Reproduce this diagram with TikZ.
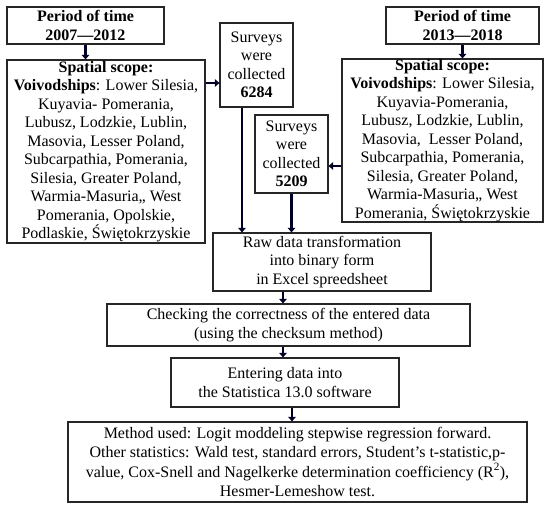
\documentclass[tikz,border=0pt]{standalone}
\usepackage{fontspec}
\setmainfont{Liberation Serif}
\usetikzlibrary{arrows.meta,calc}
\begin{document}
\begin{tikzpicture}[x=1pt,y=-1pt,
  box/.style={draw=black!85, line width=1.2pt, align=center, inner sep=0pt,
    font=\fontsize{16}{18.5}\selectfont},
  arr/.style={draw=black!85!blue, line width=2.4pt, -{Triangle[length=4.5pt,width=7.5pt]}}]
\useasboundingbox (0,0) rectangle (550,510);
\node[box, minimum width=157pt, minimum height=37pt] (p1) at (85.5,25.5)
  {\textbf{Period of time}\\\textbf{2007---2012}};
\node[box, minimum width=198pt, minimum height=183pt] (s1) at (106,151.5)
  {\textbf{Spatial scope:}\\\textbf{Voivodships}: Lower Silesia,\\Kuyavia- Pomerania,\\Lubusz, Lodzkie, Lublin,\\Masovia, Lesser Poland,\\Subcarpathia, Pomerania,\\Silesia, Greater Poland,\\Warmia-Masuria,, West\\Pomerania, Opolskie,\\Podlaskie, Świętokrzyskie};
\node[box, minimum width=73pt, minimum height=84pt] (sv1) at (256.5,65)
  {Surveys\\were\\collected\\\textbf{6284}};
\node[box, minimum width=73pt, minimum height=78pt] (sv2) at (291.5,154)
  {Surveys\\were\\collected\\\textbf{5209}};
\node[box, minimum width=153pt, minimum height=37pt] (p2) at (462.5,25.5)
  {\textbf{Period of time}\\\textbf{2013---2018}};
\node[box, minimum width=201pt, minimum height=163pt] (s2) at (442.5,140.5)
  {\textbf{Spatial scope:}\\\textbf{Voivodships}: Lower Silesia,\\Kuyavia-Pomerania,\\Lubusz, Lodzkie, Lublin,\\Masovia,\ \ Lesser Poland,\\Subcarpathia, Pomerania,\\Silesia, Greater Poland,\\Warmia-Masuria,, West\\Pomerania, Świętokrzyskie};
\node[box, minimum width=218pt, minimum height=58pt] (raw) at (322,262)
  {Raw data transformation\\into binary form\\in Excel spreedsheet};
\node[box, minimum width=363pt, minimum height=42pt] (chk) at (288.5,325)
  {Checking the correctness of the entered data\\(using the checksum method)};
\node[box, minimum width=228pt, minimum height=49pt] (ent) at (285,382.5)
  {Entering data into\\the Statistica 13.0 software};
\node[box, minimum width=459pt, minimum height=80pt, font=\fontsize{16}{19.5}\selectfont] (bot) at (297.5,462)
  {Method used: Logit moddeling stepwise regression forward.\\Other statistics: Wald test, standard errors, Student's t-statistic,p-\\value, Cox-Snell and Nagelkerke determination coefficiency (R\textsuperscript{2}),\\Hesmer-Lemeshow test.};
% connectors
\draw[arr] (p1.south) -- (p1.south |- s1.north);
\draw[arr] (p2.south) -- (p2.south |- s2.north);
\coordinate (a1) at ($(sv1.west)+(0,18)$);
\draw[arr] (s1.east |- a1) -- (a1);
\coordinate (a2) at ($(sv2.east)+(0,12)$);
\draw[arr] (s2.west |- a2) -- (a2);
\coordinate (a3) at ($(sv1.south)+(-14.5,0)$);
\draw[arr] (a3) -- (a3 |- raw.north);
\draw[arr] (sv2.south) -- (sv2.south |- raw.north);
\coordinate (a4) at ($(raw.south)+(-39,0)$);
\draw[arr] (a4) -- (a4 |- chk.north);
\coordinate (a5) at ($(chk.south)+(-5.5,0)$);
\draw[arr] (a5) -- (a5 |- ent.north);
\coordinate (a6) at ($(ent.south)+(7,0)$);
\draw[arr] (a6) -- (a6 |- bot.north);
\end{tikzpicture}
\end{document}
